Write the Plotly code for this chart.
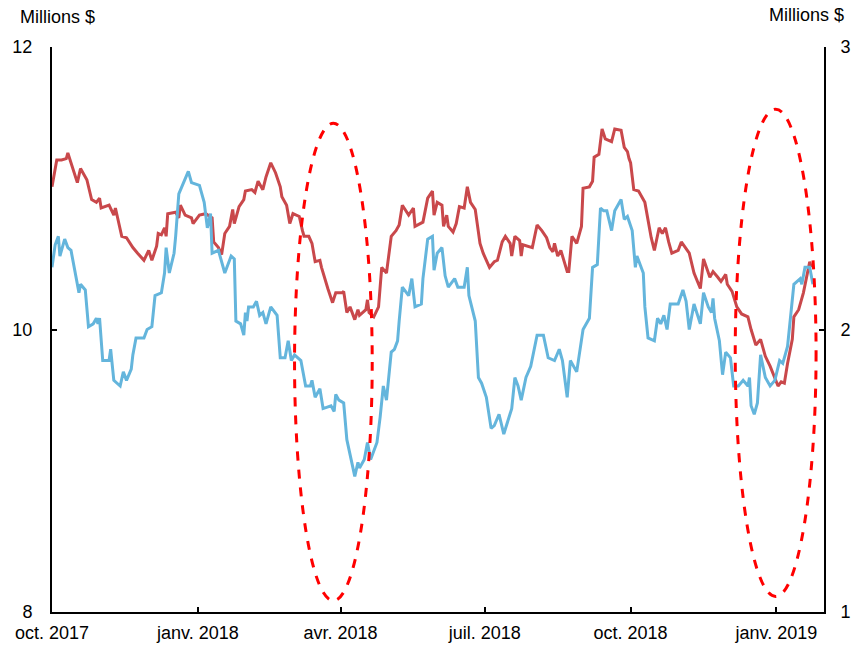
import plotly.graph_objects as go

# ---- data ----
red_dates = [
    "2017-10-01","2017-10-04","2017-10-07","2017-10-10","2017-10-11","2017-10-13","2017-10-17","2017-10-19",
    "2017-10-23","2017-10-26","2017-10-29","2017-10-31","2017-11-01","2017-11-06","2017-11-09","2017-11-10",
    "2017-11-14","2017-11-17","2017-11-20","2017-11-21","2017-11-24","2017-11-28","2017-12-01","2017-12-03",
    "2017-12-06","2017-12-07","2017-12-09","2017-12-11","2017-12-12","2017-12-13","2017-12-18","2017-12-20",
    "2017-12-21","2017-12-24","2017-12-28","2017-12-29","2018-01-02","2018-01-06","2018-01-10","2018-01-11",
    "2018-01-14","2018-01-16","2018-01-18","2018-01-21","2018-01-23","2018-01-24","2018-01-27","2018-01-30",
    "2018-01-31","2018-02-04","2018-02-06","2018-02-08","2018-02-11","2018-02-13","2018-02-16","2018-02-19",
    "2018-02-22","2018-02-23","2018-02-26","2018-02-28","2018-03-02","2018-03-06","2018-03-08","2018-03-09",
    "2018-03-12","2018-03-14","2018-03-16","2018-03-19","2018-03-20","2018-03-22","2018-03-24","2018-03-27",
    "2018-03-29","2018-04-02","2018-04-03","2018-04-05","2018-04-07","2018-04-10","2018-04-12","2018-04-13",
    "2018-04-17","2018-04-18","2018-04-19","2018-04-22","2018-04-25","2018-04-27","2018-04-30","2018-05-03",
    "2018-05-06","2018-05-08","2018-05-10","2018-05-14","2018-05-17","2018-05-18","2018-05-23","2018-05-26",
    "2018-05-29","2018-05-30","2018-06-01","2018-06-04","2018-06-05","2018-06-07","2018-06-08","2018-06-11",
    "2018-06-13","2018-06-15","2018-06-18","2018-06-20","2018-06-22","2018-06-25","2018-06-27","2018-06-28",
    "2018-06-30","2018-07-04","2018-07-07","2018-07-09","2018-07-12","2018-07-14","2018-07-17","2018-07-18",
    "2018-07-20","2018-07-23","2018-07-24","2018-07-25","2018-07-31","2018-08-03","2018-08-06","2018-08-09",
    "2018-08-11","2018-08-13","2018-08-14","2018-08-16","2018-08-18","2018-08-22","2018-08-23","2018-08-25",
    "2018-08-28","2018-08-31","2018-09-01","2018-09-05","2018-09-07","2018-09-08","2018-09-11","2018-09-13",
    "2018-09-15","2018-09-19","2018-09-21","2018-09-25","2018-09-27","2018-09-29","2018-09-30","2018-10-01",
    "2018-10-03","2018-10-06","2018-10-10","2018-10-11","2018-10-14","2018-10-16","2018-10-19","2018-10-21",
    "2018-10-23","2018-10-25","2018-10-27","2018-10-31","2018-11-02","2018-11-07","2018-11-10","2018-11-14",
    "2018-11-16","2018-11-20","2018-11-22","2018-11-25","2018-11-27","2018-11-30","2018-12-01","2018-12-04",
    "2018-12-07","2018-12-10","2018-12-14","2018-12-16","2018-12-19","2018-12-22","2018-12-25","2018-12-28",
    "2019-01-02","2019-01-04","2019-01-06","2019-01-08","2019-01-11","2019-01-12","2019-01-15","2019-01-18",
    "2019-01-22","2019-01-23",
]
red_values = [
    11.01,11.20,11.20,11.21,11.25,11.18,11.04,11.14,
    11.06,10.92,10.90,10.93,10.86,10.88,10.81,10.86,
    10.66,10.65,10.60,10.58,10.54,10.49,10.56,10.49,
    10.59,10.68,10.67,10.72,10.66,10.82,10.83,10.79,
    10.88,10.81,10.79,10.75,10.81,10.82,10.79,10.62,
    10.58,10.53,10.68,10.73,10.85,10.75,10.87,10.92,
    10.98,10.99,10.97,11.05,10.99,11.08,11.18,11.11,
    11.01,10.94,10.88,10.75,10.82,10.80,10.70,10.66,
    10.66,10.61,10.48,10.49,10.44,10.36,10.29,10.19,
    10.26,10.26,10.27,10.12,10.16,10.07,10.14,10.10,
    10.14,10.21,10.12,10.09,10.16,10.44,10.40,10.66,
    10.70,10.74,10.88,10.81,10.86,10.73,10.76,10.93,
    10.98,10.81,10.90,10.88,10.73,10.81,10.73,10.69,
    10.75,10.87,10.86,11.01,10.90,10.85,10.67,10.61,
    10.54,10.44,10.48,10.49,10.62,10.66,10.61,10.52,
    10.66,10.63,10.52,10.60,10.58,10.74,10.70,10.65,
    10.58,10.55,10.61,10.52,10.56,10.41,10.41,10.66,
    10.61,10.73,11.00,11.01,11.05,11.22,11.24,11.42,
    11.35,11.33,11.42,11.41,11.29,11.26,11.21,11.18,
    10.99,10.98,10.90,10.83,10.65,10.56,10.72,10.68,
    10.72,10.62,10.54,10.56,10.62,10.54,10.40,10.29,
    10.50,10.37,10.41,10.37,10.34,10.39,10.32,10.27,
    10.16,10.11,10.09,10.00,9.89,9.93,9.81,9.74,
    9.60,9.63,9.62,9.76,9.93,10.09,10.14,10.26,
    10.48,10.44,
]

blue_dates = [
    "2017-10-01","2017-10-03","2017-10-05","2017-10-06","2017-10-09","2017-10-11","2017-10-13","2017-10-18",
    "2017-10-19","2017-10-22","2017-10-24","2017-10-27","2017-10-29","2017-10-30","2017-10-31","2017-11-02",
    "2017-11-06","2017-11-07","2017-11-09","2017-11-13","2017-11-15","2017-11-17","2017-11-20","2017-11-21",
    "2017-11-23","2017-11-28","2017-11-30","2017-12-03","2017-12-05","2017-12-09","2017-12-11","2017-12-12",
    "2017-12-14","2017-12-17","2017-12-18","2017-12-20","2017-12-23","2017-12-26","2017-12-28","2018-01-02",
    "2018-01-05","2018-01-07","2018-01-09","2018-01-10","2018-01-14","2018-01-18","2018-01-22","2018-01-24",
    "2018-01-25","2018-01-28","2018-01-30","2018-01-31","2018-02-01","2018-02-02","2018-02-05","2018-02-07",
    "2018-02-09","2018-02-11","2018-02-13","2018-02-16","2018-02-20","2018-02-22","2018-02-25","2018-02-27",
    "2018-03-01","2018-03-03","2018-03-07","2018-03-10","2018-03-13","2018-03-14","2018-03-16","2018-03-19",
    "2018-03-21","2018-03-26","2018-03-28","2018-03-29","2018-03-31","2018-04-03","2018-04-05","2018-04-07",
    "2018-04-10","2018-04-12","2018-04-13","2018-04-16","2018-04-18","2018-04-20","2018-04-24","2018-04-26",
    "2018-04-28","2018-04-30","2018-05-03","2018-05-05","2018-05-07","2018-05-08","2018-05-10","2018-05-14",
    "2018-05-16","2018-05-18","2018-05-22","2018-05-23","2018-05-26","2018-05-29","2018-05-30","2018-06-01",
    "2018-06-04","2018-06-06","2018-06-08","2018-06-12","2018-06-14","2018-06-18","2018-06-20","2018-06-21",
    "2018-06-25","2018-06-27","2018-06-29","2018-07-02","2018-07-05","2018-07-07","2018-07-10","2018-07-13",
    "2018-07-18","2018-07-20","2018-07-22","2018-07-24","2018-07-27","2018-07-30","2018-08-01","2018-08-03",
    "2018-08-07","2018-08-10","2018-08-14","2018-08-17","2018-08-19","2018-08-22","2018-08-24","2018-08-28",
    "2018-09-01","2018-09-05","2018-09-07","2018-09-10","2018-09-12","2018-09-14","2018-09-16","2018-09-19",
    "2018-09-21","2018-09-25","2018-09-27","2018-09-29","2018-10-02","2018-10-04","2018-10-05","2018-10-09",
    "2018-10-10","2018-10-12","2018-10-16","2018-10-18","2018-10-20","2018-10-22","2018-10-24","2018-10-26",
    "2018-10-31","2018-11-03","2018-11-05","2018-11-07","2018-11-10","2018-11-14","2018-11-16","2018-11-19",
    "2018-11-21","2018-11-22","2018-11-23","2018-11-26","2018-11-28","2018-11-30","2018-12-03","2018-12-05",
    "2018-12-08","2018-12-11","2018-12-14","2018-12-15","2018-12-16","2018-12-18","2018-12-20","2018-12-22",
    "2018-12-25","2018-12-28","2018-12-31","2019-01-03","2019-01-05","2019-01-08","2019-01-12","2019-01-16",
    "2019-01-17","2019-01-19","2019-01-22","2019-01-24",
]
blue_values = [
    2.22,2.30,2.33,2.26,2.32,2.29,2.28,2.13,
    2.16,2.14,2.01,2.02,2.04,2.02,2.04,1.89,
    1.89,1.93,1.82,1.80,1.85,1.82,1.86,1.91,
    1.97,1.97,2.00,2.01,2.12,2.13,2.20,2.29,
    2.20,2.27,2.33,2.48,2.52,2.56,2.52,2.51,
    2.45,2.36,2.41,2.27,2.28,2.20,2.26,2.25,
    2.03,2.02,1.98,2.06,2.03,2.08,2.08,2.10,
    2.05,2.06,2.02,2.08,2.05,1.90,1.90,1.96,
    1.89,1.91,1.89,1.80,1.80,1.82,1.76,1.79,
    1.72,1.73,1.71,1.77,1.75,1.74,1.61,1.56,
    1.48,1.53,1.51,1.54,1.60,1.54,1.60,1.69,
    1.80,1.75,1.92,1.93,1.96,2.03,2.15,2.12,
    2.18,2.08,2.09,2.18,2.32,2.33,2.21,2.27,
    2.29,2.19,2.15,2.18,2.15,2.15,2.22,2.12,
    2.03,1.83,1.81,1.76,1.65,1.66,1.70,1.63,
    1.72,1.83,1.80,1.75,1.83,1.87,1.93,1.98,
    1.98,1.90,1.89,1.93,1.89,1.76,1.89,1.85,
    2.00,2.04,2.22,2.23,2.43,2.42,2.42,2.35,
    2.42,2.46,2.39,2.40,2.35,2.22,2.26,2.20,
    2.08,1.97,1.96,2.04,2.02,2.05,2.00,2.09,
    2.09,2.14,2.10,2.00,2.09,2.02,2.13,2.08,
    2.06,2.11,2.04,1.96,1.84,1.92,1.90,1.80,
    1.80,1.82,1.80,1.83,1.73,1.70,1.74,1.91,
    1.83,1.80,1.82,1.89,1.88,1.94,2.16,2.18,
    2.16,2.22,2.22,2.16,
]

tick_dates = ["2017-10-01", "2018-01-01", "2018-04-01", "2018-07-01", "2018-10-01", "2019-01-01"]
tick_labels = ["oct. 2017", "janv. 2018", "avr. 2018", "juil. 2018", "oct. 2018", "janv. 2019"]
left_ticks = [8, 10, 12]
right_ticks = [1, 2, 3]
axis_title = "Millions $"

# highlight ellipses (date span, left-axis value span)
ellipses = [
    ("2018-03-03", "2018-04-21", 8.08, 11.46),
    ("2018-12-06", "2019-01-26", 8.11, 11.56),
]

RED = "#C9484B"
BLUE = "#64B5DC"
FONT = "Liberation Sans, Arial, sans-serif"
FS = 18

fig = go.Figure()
fig.add_trace(go.Scatter(x=blue_dates, y=blue_values, mode="lines", yaxis="y2",
                         line=dict(color=BLUE, width=3), showlegend=False, hoverinfo="skip"))
fig.add_trace(go.Scatter(x=red_dates, y=red_values, mode="lines", yaxis="y",
                         line=dict(color=RED, width=3), showlegend=False, hoverinfo="skip"))

for x0, x1, y0, y1 in ellipses:
    fig.add_shape(type="circle", xref="x", yref="y", x0=x0, x1=x1, y0=y0, y1=y1,
                  line=dict(color="#FF0000", width=3, dash="dash"), fillcolor="rgba(0,0,0,0)")

axis_common = dict(
    ticks="inside", ticklen=5, tickwidth=2, tickcolor="black",
    showline=True, linecolor="black", linewidth=2,
    showgrid=False, zeroline=False, automargin=False,
    tickfont=dict(family=FONT, size=FS, color="black"),
)

fig.update_layout(
    width=856, height=638,
    margin=dict(l=44, r=40, t=39, b=34),
    paper_bgcolor="white", plot_bgcolor="white",
    font=dict(family=FONT, size=FS, color="black"),
    showlegend=False,
    xaxis=dict(
        range=["2017-10-01", "2019-01-31"], type="date",
        tickvals=tick_dates, ticktext=tick_labels,
        ticklabelstandoff=3,
        **axis_common,
    ),
    yaxis=dict(
        range=[8, 12], tickvals=left_ticks, ticktext=[str(v) for v in left_ticks],
        ticklabelstandoff=14,
        **axis_common,
    ),
    yaxis2=dict(
        range=[1, 3], tickvals=right_ticks, ticktext=[str(v) for v in right_ticks],
        overlaying="y", side="right",
        ticklabelstandoff=11,
        **axis_common,
    ),
    annotations=[
        dict(text=axis_title, xref="paper", yref="paper", x=-0.044, y=1.053,
             xanchor="left", yanchor="middle", showarrow=False,
             font=dict(family=FONT, size=FS, color="black")),
        dict(text=axis_title, xref="paper", yref="paper", x=1.0285, y=1.057,
             xanchor="right", yanchor="middle", showarrow=False,
             font=dict(family=FONT, size=FS, color="black")),
    ],
)

fig.write_html("out.html")
